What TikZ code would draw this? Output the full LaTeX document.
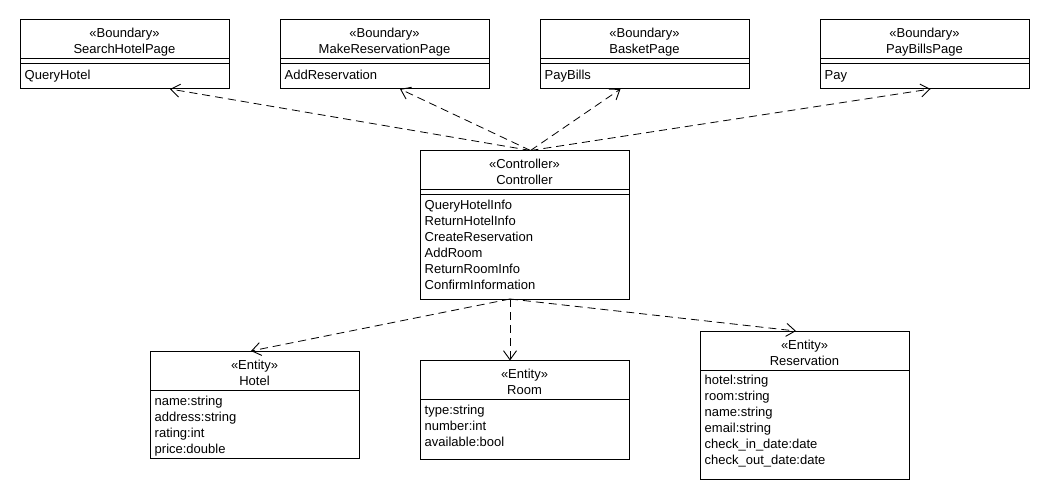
\documentclass[tikz,border=0pt]{standalone}
\usepackage{fontspec}
\setmainfont{Liberation Sans}
\usetikzlibrary{arrows.meta}
\newcommand\umlcls[9]{%
  \node[umlbox, minimum height=#4pt] (#1) at (#2,#3) {};
  \node[hdr] (#1-st) at ([yshift=-18pt]#1.north) {«#5»};
  \node[hdr] (#1-ti) at ([yshift=-34pt]#1.north) {#6};
  \draw[boxline] ([yshift=-39pt]#1.north west) -- ([yshift=-39pt]#1.north east);
  \ifnum#7=1
    \draw[boxline] ([yshift=-44pt]#1.north west) -- ([yshift=-44pt]#1.north east);
  \fi
  \foreach \t [count=\i from 0] in {#9}
    \node[item] (#1-i\i) at ([xshift=4.5pt,yshift={-(#8+16*\i)*1pt}]#1.north west) {\t};
}
\begin{document}
\begin{tikzpicture}[x=1pt,y=-1pt,
  umlbox/.style={draw, line width=1pt, minimum width=209pt, anchor=north west, inner sep=0pt, outer sep=0pt},
  boxline/.style={line width=1pt},
  hdr/.style={font=\fontsize{13}{16}\selectfont, anchor=base, inner sep=0pt},
  item/.style={font=\fontsize{13}{16}\selectfont, anchor=base west, inner sep=0pt},
  dep/.style={line width=0.8pt, dash pattern=on 8pt off 5pt, -{Straight Barb[length=9pt,width=13pt,line width=0.9pt]}}]
\useasboundingbox (0,0) rectangle (1050,500);

\umlcls{shp}{20}{20}{69}{Boundary}{SearchHotelPage}{1}{60}{QueryHotel}
\umlcls{mrp}{280}{20}{69}{Boundary}{MakeReservationPage}{1}{60}{AddReservation}
\umlcls{bkp}{540}{20}{69}{Boundary}{BasketPage}{1}{60}{PayBills}
\umlcls{pbp}{820}{20}{69}{Boundary}{PayBillsPage}{1}{60}{Pay}
\umlcls{ctl}{420}{150.5}{148.5}{Controller}{Controller}{1}{59}{QueryHotelInfo,ReturnHotelInfo,CreateReservation,AddRoom,ReturnRoomInfo,ConfirmInformation}
\umlcls{hot}{150}{351}{107}{Entity}{Hotel}{0}{54}{name:string,address:string,rating:int,price:double}
\umlcls{room}{420}{360.5}{98.5}{Entity}{Room}{0}{54}{type:string,number:int,available:bool}
\umlcls{res}{700}{331}{148}{Entity}{Reservation}{0}{53}{hotel:string,room:string,name:string,email:string,check\_in\_date:date,check\_out\_date:date}

\coordinate (ctop) at ([xshift=6pt]ctl.north);
\coordinate (cbot) at ([xshift=-14.5pt]ctl.south);

\draw[dep] (ctop) -- ([xshift=45.5pt]shp.south);
\draw[dep] (ctop) -- ([xshift=15.5pt]mrp.south);
\draw[dep] (ctop) -- ([xshift=-24pt]bkp.south);
\draw[dep] (ctop) -- ([xshift=6pt]pbp.south);
\draw[dep] (cbot) -- ([xshift=-3.5pt]hot.north);
\draw[dep] (cbot) -- ([xshift=-14.5pt]room.north);
\draw[dep] (cbot) -- ([xshift=-8.5pt]res.north);
\end{tikzpicture}
\end{document}
